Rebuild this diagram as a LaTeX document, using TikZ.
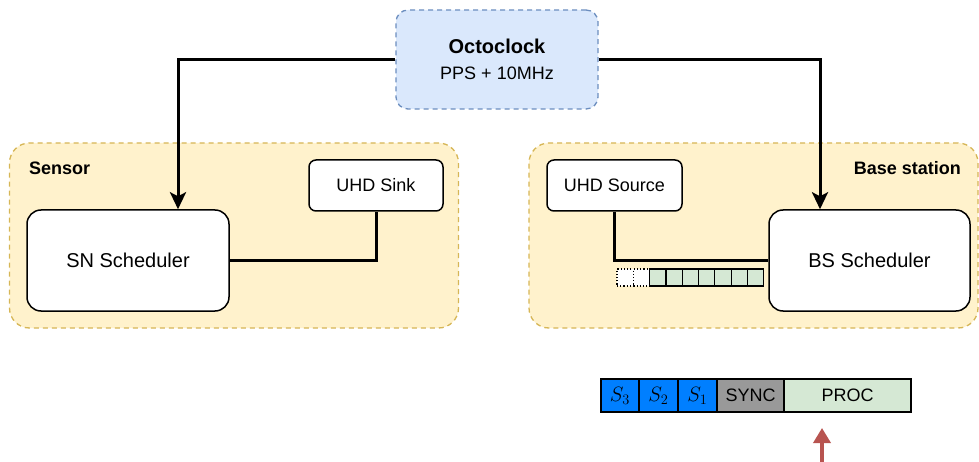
\documentclass[tikz,border=0pt]{standalone}
\usepackage{fontspec}
\setmainfont{Liberation Sans}
\usetikzlibrary{arrows.meta}
\definecolor{octofill}{HTML}{DAE8FC}
\definecolor{octostroke}{HTML}{6C8EBF}
\definecolor{grpfill}{HTML}{FFF2CC}
\definecolor{grpstroke}{HTML}{D6B656}
\definecolor{greenfill}{HTML}{D5E8D4}
\definecolor{slotblue}{HTML}{007FFF}
\definecolor{syncgray}{HTML}{999999}
\definecolor{redarrow}{HTML}{B85450}
\begin{document}
\begin{tikzpicture}[x=1pt,y=-1pt,
  grp/.style={draw=grpstroke, fill=grpfill, line width=1.3pt, dash pattern=on 5pt off 4pt, rounded corners=20pt, inner sep=0pt},
  octobox/.style={draw=octostroke, fill=octofill, line width=1.3pt, dash pattern=on 5pt off 4pt, rounded corners=12pt, inner sep=0pt, align=center, font=\fontsize{18}{26}\selectfont},
  bigbox/.style={draw=black, fill=white, line width=1.5pt, rounded corners=14pt, inner sep=0pt, font=\fontsize{20}{24}\selectfont},
  smallbox/.style={draw=black, fill=white, line width=1.5pt, rounded corners=7pt, inner sep=0pt, font=\fontsize{18}{22}\selectfont},
  grplabel/.style={font=\fontsize{18}{22}\selectfont\bfseries, inner sep=0pt},
  conn/.style={draw=black, line width=3pt},
  clockarrow/.style={conn, -{Stealth[length=17pt,width=16pt,inset=4pt]}},
  qcell/.style={draw=black, fill=greenfill, line width=1.2pt, minimum width=16.3pt, minimum height=17pt, inner sep=0pt, outer sep=0pt},
  qempty/.style={draw=black, fill=white, line width=1.2pt, dotted, minimum width=16.3pt, minimum height=17pt, inner sep=0pt, outer sep=0pt},
  slot/.style={draw=black, line width=1.5pt, minimum height=33pt, inner sep=0pt, outer sep=0pt, anchor=west},
  redarr/.style={draw=redarrow, line width=3.5pt, -{Triangle[length=15pt,width=17pt]}}
]
\useasboundingbox (0,0) rectangle (979,462);

% groups
\node[grp, minimum width=449pt, minimum height=185pt] (sensor) at (234,235.5) {};
\node[grp, minimum width=449pt, minimum height=185pt] (base) at (753.5,235.5) {};
\node[grplabel, anchor=west] (sensorlbl) at (29,168) {Sensor};
\node[grplabel, anchor=east] (baselbl) at (961,168) {Base station};

% clock
\node[octobox, minimum width=202pt, minimum height=99pt] (octo) at (497,59.5)
  {{\fontsize{20}{26}\selectfont\bfseries Octoclock}\\PPS + 10MHz};

% boxes
\node[smallbox, minimum width=134pt, minimum height=51pt] (sink) at (376,185.5) {UHD Sink};
\node[bigbox, minimum width=202pt, minimum height=101pt] (sn) at (128,260.5) {SN Scheduler};
\node[smallbox, minimum width=135pt, minimum height=51pt] (source) at (614.5,185.5) {UHD Source};
\node[bigbox, minimum width=201pt, minimum height=101pt] (bs) at (869.5,260.5) {BS Scheduler};

% connectors
\draw[clockarrow] (octo.west) -| ([xshift=50pt]sn.north);
\draw[clockarrow] (octo.east) -| ([xshift=-49.5pt]bs.north);
\draw[conn] (sn.east) -| (sink.south);
\draw[conn] (source.south) |- (bs.west);

% queue
\foreach \i in {0,1} {
  \node[qempty] (q\i) at ({617+8.15+16.3*\i},277.5) {};
}
\foreach \i in {2,...,8} {
  \node[qcell] (q\i) at ({617+8.15+16.3*\i},277.5) {};
}

% slot bar
\node[slot, fill=slotblue, minimum width=38pt, font=\fontsize{20}{24}\selectfont] (s3) at (601,395.5) {$S_3$};
\node[slot, fill=slotblue, minimum width=39pt, font=\fontsize{20}{24}\selectfont] (s2) at (s3.east) {$S_2$};
\node[slot, fill=slotblue, minimum width=39pt, font=\fontsize{20}{24}\selectfont] (s1) at (s2.east) {$S_1$};
\node[slot, fill=syncgray, minimum width=67pt, font=\fontsize{18}{22}\selectfont] (sync) at (s1.east) {SYNC};
\node[slot, fill=greenfill, minimum width=127pt, font=\fontsize{18}{22}\selectfont] (proc) at (sync.east) {PROC};

% red arrow
\coordinate (rbot) at (822,462);
\coordinate (rtop) at (822,428);
\draw[redarr] (rbot) -- (rtop);
\end{tikzpicture}
\end{document}
